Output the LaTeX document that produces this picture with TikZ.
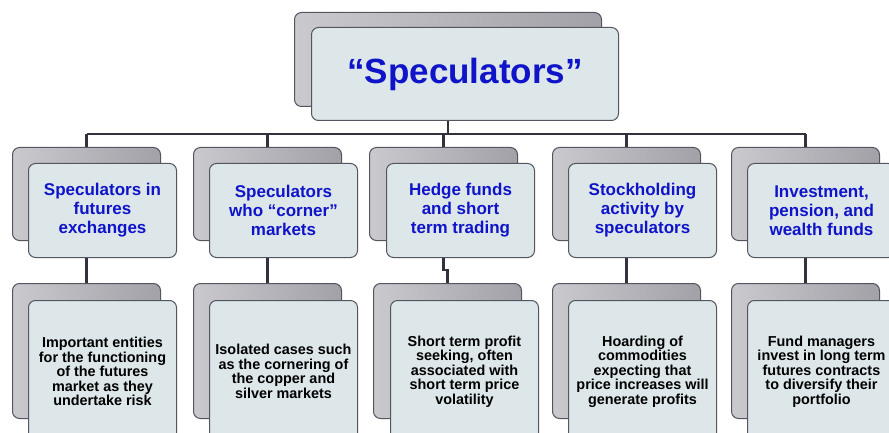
\documentclass[tikz,border=0pt]{standalone}
\usepackage{fontspec}
\setmainfont{Liberation Sans}
\usetikzlibrary{backgrounds}
\definecolor{edgec}{RGB}{85,85,95}
\definecolor{frontfill}{RGB}{221,231,234}
\definecolor{bgL}{RGB}{202,201,206}
\definecolor{bgR}{RGB}{162,161,167}
\definecolor{connc}{RGB}{50,50,62}
\definecolor{txtblue}{RGB}{15,20,200}
\tikzset{
  backbox/.style={draw=edgec, line width=1pt, rounded corners=7pt, left color=bgL, right color=bgR, anchor=north west, inner sep=0pt},
  frontbox/.style={draw=edgec, line width=1pt, rounded corners=7pt, fill=frontfill, anchor=north west, inner sep=0pt, align=center},
  rowtwo/.style={frontbox, minimum width=148pt, minimum height=94pt, text=txtblue, font=\fontsize{17}{19}\selectfont\bfseries},
  rowthree/.style={frontbox, minimum width=148pt, minimum height=142pt, text=black, font=\fontsize{14.4}{14.5}\selectfont\bfseries},
  backtwo/.style={backbox, minimum width=148pt, minimum height=93pt},
  backthree/.style={backbox, minimum width=148pt, minimum height=135pt},
  conn/.style={draw=connc, line width=2.5pt}
}
\begin{document}
\begin{tikzpicture}[x=1pt,y=-1pt]
\useasboundingbox (0,0) rectangle (889,433);
\clip (0,0) rectangle (889,433);
% top
\node[backbox, minimum width=307pt, minimum height=94pt] (bt) at (294,12) {};
\node[frontbox, minimum width=307pt, minimum height=93pt, text=txtblue, font=\fontsize{35}{40}\selectfont\bfseries] (ft) at (311,27) {“Speculators”};
\coordinate (bar) at (0,134);
% row 2
\node[backtwo] (b21) at (12,147) {};
\node[rowtwo] (f21) at (28,163) {Speculators in\\futures\\exchanges};
\node[backtwo] (b22) at (193,147) {};
\node[rowtwo] (f22) at (209,163) {Speculators\\who “corner”\\markets};
\node[backtwo] (b23) at (369,147) {};
\node[rowtwo] (f23) at (386,163) {Hedge funds\\and short\\term trading};
\node[backtwo] (b24) at (552,147) {};
\node[rowtwo] (f24) at (568,163) {Stockholding\\activity by\\speculators};
\node[backtwo] (b25) at (731,147) {};
\node[rowtwo] (f25) at (747,163) {Investment,\\pension, and\\wealth funds};
% row 3
\node[backthree] (b31) at (12,283) {};
\node[rowthree] (f31) at (28,300) {Important entities\\for the functioning\\of the futures\\market as they\\undertake risk};
\node[backthree] (b32) at (193,283) {};
\node[rowthree] (f32) at (209,300) {Isolated cases such\\as the cornering of\\the copper and\\silver markets};
\node[backthree] (b33) at (373,283) {};
\node[rowthree] (f33) at (390,300) {Short term profit\\seeking, often\\associated with\\short term price\\volatility};
\node[backthree] (b34) at (552,283) {};
\node[rowthree] (f34) at (568,300) {Hoarding of\\commodities\\expecting that\\price increases will\\generate profits};
\node[backthree] (b35) at (731,283) {};
\node[rowthree] (f35) at (747,300) {Fund managers\\invest in long term\\futures contracts\\to diversify their\\portfolio};
% connectors
\begin{scope}[on background layer]
\draw[conn] (bt.south) -- (bt.south |- bar);
\draw[conn] (b21.north |- bar) -- (b25.north |- bar);
\foreach \i in {1,...,5}{\draw[conn] (b2\i.north |- bar) -- (b2\i.north);}
\draw[conn] (b21.south) -- (b31.north);
\draw[conn] (b22.south) -- (b32.north);
\draw[conn] (b23.south) -- ++(0,29) -| (b33.north);
\draw[conn] (b24.south) -- (b34.north);
\draw[conn] (b25.south) -- (b35.north);
\end{scope}
\end{tikzpicture}
\end{document}
